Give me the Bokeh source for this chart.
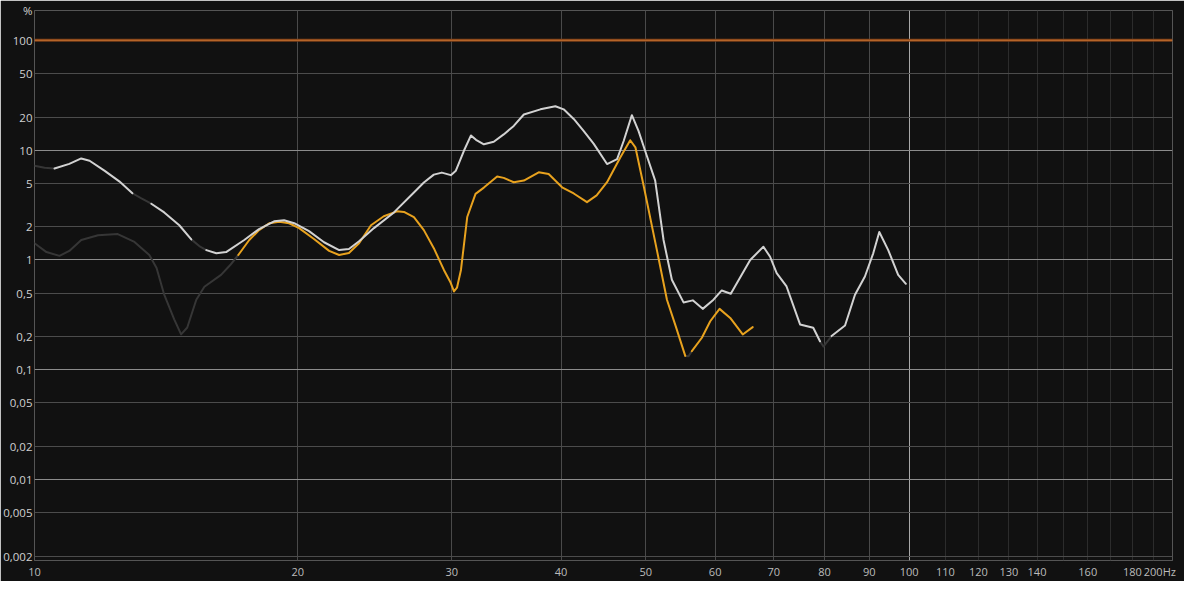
import numpy as np
from bokeh.plotting import figure
from bokeh.models import (Range1d, FixedTicker, CustomJSTickFormatter, Grid, Span)
from bokeh.embed import file_html
from bokeh.resources import INLINE

# ---- data -------------------------------------------------------------
# THD (white) : frequency (Hz), distortion (%), reliable flag (0 = dimmed)
thd_hz = [10.0, 10.27, 10.54, 10.96, 11.31, 11.56, 12.02, 12.50, 12.94, 13.25,
          13.60, 14.07, 14.64, 15.11, 15.43, 15.72, 16.14, 16.56, 17.37, 18.06,
          18.79, 19.29, 19.81, 20.60, 21.43, 22.30, 22.88, 23.50, 24.44, 25.76,
          27.15, 27.87, 28.61, 29.22, 29.92, 30.32, 30.97, 31.55, 31.97, 32.64,
          33.50, 34.39, 35.31, 36.26, 37.88, 39.40, 40.27, 41.35, 42.46, 43.59,
          45.14, 46.35, 47.16, 48.19, 49.05, 50.12, 51.24, 52.38, 53.54, 55.21,
          56.57, 58.07, 59.74, 61.05, 62.52, 65.80, 68.13, 69.34, 70.55, 72.41,
          75.03, 77.68, 79.07, 79.78, 81.52, 84.46, 86.70, 89.0, 90.97, 92.43,
          94.63, 97.14, 99.13]
thd_pct = [7.2, 6.9, 6.8, 7.5, 8.4, 8.0, 6.5, 5.2, 4.05, 3.63,
           3.25, 2.71, 2.07, 1.54, 1.34, 1.23, 1.15, 1.18, 1.52, 1.91,
           2.25, 2.30, 2.16, 1.83, 1.45, 1.23, 1.26, 1.48, 1.95, 2.71,
           4.11, 5.07, 5.98, 6.24, 5.92, 6.50, 9.86, 13.6, 12.4, 11.3,
           11.9, 13.9, 16.6, 21.1, 23.5, 25.1, 23.5, 19.2, 14.9, 11.4,
           7.47, 8.29, 12.1, 20.8, 14.9, 8.88, 5.28, 1.52, 0.66, 0.411,
           0.429, 0.359, 0.435, 0.528, 0.493, 1.0, 1.32, 1.07, 0.758, 0.574,
           0.259, 0.242, 0.182, 0.163, 0.203, 0.253, 0.483, 0.707, 1.15, 1.80,
           1.23, 0.732, 0.607]
thd_ok = [0, 0, 1, 1, 1, 1, 1, 1, 1, 0,
          1, 1, 1, 1, 0, 1, 1, 1, 1, 1,
          1, 1, 1, 1, 1, 1, 1, 1, 1, 1,
          1, 1, 1, 1, 1, 1, 1, 1, 1, 1,
          1, 1, 1, 1, 1, 1, 1, 1, 1, 1,
          1, 1, 1, 1, 1, 1, 1, 1, 1, 1,
          1, 1, 1, 1, 1, 1, 1, 1, 1, 1,
          1, 1, 1, 0, 1, 1, 1, 1, 1, 1,
          1, 1, 1]

# H2 (orange)
h2_hz = [10.0, 10.32, 10.68, 10.96, 11.31, 11.82, 12.45, 13.01, 13.53, 13.79,
         14.07, 14.45, 14.71, 14.95, 15.31, 15.64, 16.34, 16.74, 17.10, 17.60,
         18.06, 18.55, 19.05, 19.55, 20.07, 20.87, 21.72, 22.30, 22.88, 23.50,
         24.25, 25.08, 25.97, 26.45, 27.15, 27.87, 28.61, 29.38, 29.91, 30.17,
         30.41, 30.73, 31.24, 31.93, 32.64, 33.80, 34.39, 35.31, 36.26, 37.71,
         38.71, 40.10, 41.35, 42.82, 43.92, 45.14, 46.74, 47.98, 48.64, 49.70,
         51.47, 52.85, 54.08, 55.46, 55.94, 56.43, 57.94, 59.23, 60.70, 62.43,
         64.52, 66.24]
h2_pct = [1.42, 1.18, 1.09, 1.21, 1.52, 1.68, 1.72, 1.46, 1.11, 0.847,
          0.483, 0.287, 0.210, 0.243, 0.435, 0.570, 0.732, 0.90, 1.11, 1.52,
          1.87, 2.16, 2.23, 2.16, 1.95, 1.55, 1.21, 1.11, 1.16, 1.42,
          2.07, 2.50, 2.77, 2.74, 2.45, 1.87, 1.28, 0.812, 0.620, 0.517,
          0.559, 0.812, 2.46, 4.0, 4.56, 5.74, 5.59, 5.10, 5.28, 6.28,
          6.07, 4.59, 4.03, 3.36, 3.87, 5.10, 8.57, 12.3, 10.6, 4.76,
          1.23, 0.435, 0.25, 0.134, 0.133, 0.148, 0.196, 0.277, 0.359, 0.297,
          0.210, 0.245]
h2_ok = [0, 0, 0, 0, 0, 0, 0, 0, 0, 0,
         0, 0, 0, 0, 0, 0, 0, 0, 1, 1,
         1, 1, 1, 1, 1, 1, 1, 1, 1, 1,
         1, 1, 1, 1, 1, 1, 1, 1, 1, 1,
         1, 1, 1, 1, 1, 1, 1, 1, 1, 1,
         1, 1, 1, 1, 1, 1, 1, 1, 1, 1,
         1, 1, 1, 1, 0, 1, 1, 1, 1, 1,
         1, 1]

ref_level = 100

y_ticks = [0.002, 0.005, 0.01, 0.02, 0.05, 0.1, 0.2, 0.5, 1, 2, 5, 10, 20, 50, 100]
y_unit = "%"
y_top = 186.5
y_bottom = 0.00184
y_decades = [0.01, 0.1, 1, 10, 100]
y_minor = [0.002, 0.005, 0.02, 0.05, 0.2, 0.5, 2, 5, 20, 50]
x_ticks = [10, 20, 30, 40, 50, 60, 70, 80, 90, 100, 110, 120, 130, 140, 160, 180, 200]
x_unit = "Hz"
x_grid_main = [20, 30, 40, 50, 60, 70, 80, 90]
x_grid_100 = [100]
x_grid_dim = [110, 120, 130, 140, 150, 160, 170, 180, 190]

# ---- styling ----------------------------------------------------------
BG = "#111111"
FONT = "Open Sans"
DIM = "#363636"

p = figure(width=1184, height=581, x_axis_type="log", y_axis_type="log",
           x_range=Range1d(10, 200), y_range=Range1d(y_bottom, y_top),
           output_backend="svg", toolbar_location=None,
           min_border_left=32, min_border_right=12, min_border_top=10,
           min_border_bottom=17)
p.background_fill_color = BG
p.border_fill_color = BG
p.outline_line_color = "#555555"
p.grid.visible = False

for ticks, col in [(x_grid_main, "#4a4a4a"), (x_grid_100, "#a8a8a8"), (x_grid_dim, "#2c2c2c")]:
    p.add_layout(Grid(dimension=0, ticker=FixedTicker(ticks=ticks), grid_line_color=col))
for ticks, col in [(y_minor, "#4c4c4c"), (y_decades, "#8c8c8c")]:
    p.add_layout(Grid(dimension=1, ticker=FixedTicker(ticks=ticks), grid_line_color=col))

for ax in (p.xaxis[0], p.yaxis[0]):
    ax.axis_line_color = None
    ax.major_tick_line_color = None
    ax.minor_tick_line_color = None
    ax.major_tick_in = 0
    ax.major_tick_out = 0
    ax.major_label_text_font = FONT

# y axis: comma decimals, unit label at the top of the scale
p.yaxis[0].ticker = FixedTicker(ticks=y_ticks + [y_top * 0.999])
p.yaxis[0].formatter = CustomJSTickFormatter(
    args=dict(top=y_top * 0.999, unit=y_unit),
    code="return tick == top ? unit : String(tick).replace('.', ',');")
p.yaxis[0].major_label_standoff = 2
p.yaxis[0].major_label_text_font_size = "11.5px"
p.yaxis[0].major_label_text_color = "#d0d0d0"

# x axis: unit appended to the last label (trailing no-break spaces keep it inside the canvas)
p.xaxis[0].ticker = FixedTicker(ticks=x_ticks)
p.xaxis[0].formatter = CustomJSTickFormatter(
    args=dict(unit=x_unit),
    code="return tick == 200 ? '200' + unit + '\\u00a0\\u00a0\\u00a0' : String(tick);")
p.xaxis[0].major_label_standoff = 3
p.xaxis[0].major_label_text_font_size = "11px"
p.xaxis[0].major_label_text_color = "#bcbcbc"

# reference line at 100 %
p.add_layout(Span(location=ref_level, dimension="width", line_color="#7e4019", line_width=3))
p.add_layout(Span(location=ref_level, dimension="width", line_color="#c8702f", line_width=1.2))


def split(hz, pct, ok):
    segs = []
    cur_b = bool(ok[0] and ok[1])
    xs, ys = [hz[0]], [pct[0]]
    for i in range(len(hz) - 1):
        b = bool(ok[i] and ok[i + 1])
        if b != cur_b:
            segs.append((xs, ys, cur_b))
            xs, ys, cur_b = [hz[i]], [pct[i]], b
        xs.append(hz[i + 1])
        ys.append(pct[i + 1])
    segs.append((xs, ys, cur_b))
    return segs


def draw(hz, pct, ok, color):
    segs = split(hz, pct, ok)
    dim = [s for s in segs if not s[2]]
    bright = [s for s in segs if s[2]]
    if dim:
        p.multi_line(xs=[s[0] for s in dim], ys=[s[1] for s in dim],
                     line_color=DIM, line_width=2, line_join="round", line_cap="round")
    if bright:
        p.multi_line(xs=[s[0] for s in bright], ys=[s[1] for s in bright],
                     line_color=color, line_width=2, line_join="round", line_cap="round")


draw(h2_hz, h2_pct, h2_ok, "#e8a21e")
draw(thd_hz, thd_pct, thd_ok, "#d2d2d2")

open("out.html", "w").write(file_html(p, INLINE))
